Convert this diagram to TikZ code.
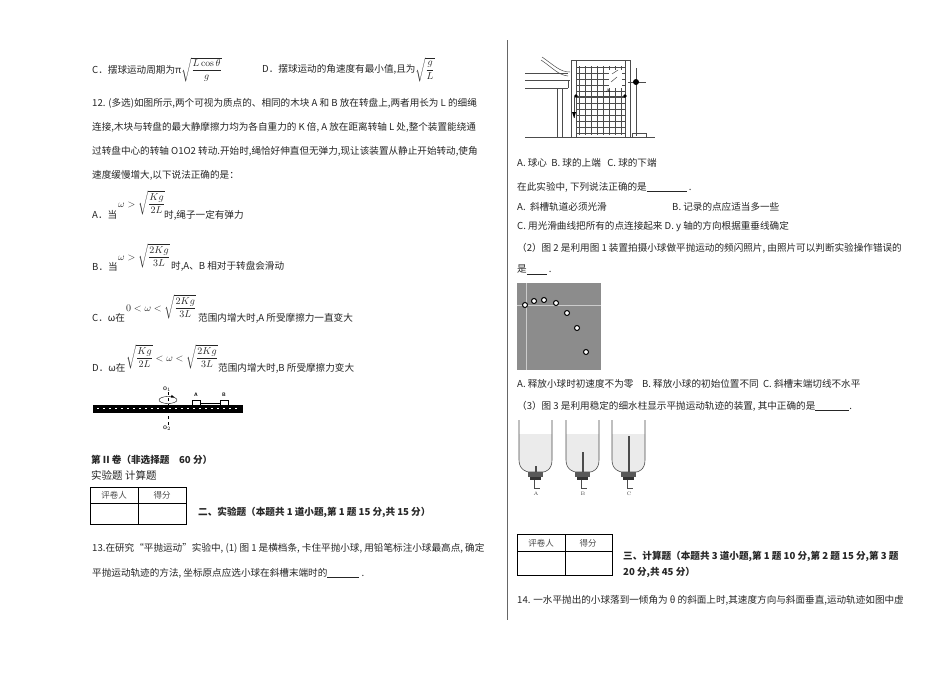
\documentclass[tikz,border=0pt]{standalone}
\usepackage{amsmath}
\usepackage{fontspec}
\newfontfamily\cjk{Noto Sans CJK SC}
\usetikzlibrary{shapes.geometric}
\tikzset{
 t/.style={anchor=west,inner sep=0pt,font=\cjk\fontsize{9.6}{11}\selectfont,text=black!85},
 hd/.style={t,font=\cjk\bfseries\fontsize{9.6}{11}\selectfont},
 sm/.style={inner sep=0pt,font=\cjk\fontsize{8.5}{10}\selectfont,text=black!70},
 ln/.style={draw=black!70,line width=0.5pt},
 ball/.style={circle,draw=black,fill=white,line width=1pt,minimum size=5pt,inner sep=0pt}
}
\begin{document}
\begin{tikzpicture}[x=1pt,y=-1pt]
\useasboundingbox[fill=white] (0,0) rectangle (950,673);
% left column
\node[t] (c11) at (92,70) {C．摆球运动周期为π$\sqrt{\dfrac{L\cos\theta}{g}}$};
\node[t] (d11) at (262,70) {D．摆球运动的角速度有最小值,且为$\sqrt{\dfrac{g}{L}}$};
\node[t] (q1) at (92,103) {12. (多选)如图所示,两个可视为质点的、相同的木块 A 和 B 放在转盘上,两者用长为 L 的细绳};
\node[t] (q2) at (92,127) {连接,木块与转盘的最大静摩擦力均为各自重力的 K 倍, A 放在距离转轴 L 处,整个装置能绕通};
\node[t] (q3) at (92,151) {过转盘中心的转轴 O1O2 转动.开始时,绳恰好伸直但无弹力,现让该装置从静止开始转动,使角};
\node[t] (q4) at (92,175) {速度缓慢增大,以下说法正确的是：};
\node[t] (oa) at (92,215) {A．当};
\node[t] (oam) at (118,203) {$\omega>\sqrt{\dfrac{Kg}{2L}}$};
\node[t] (oat) at (164,215) {时,绳子一定有弹力};
\node[t] (ob) at (92,267) {B．当};
\node[t] (obm) at (118,256) {$\omega>\sqrt{\dfrac{2Kg}{3L}}$};
\node[t] (obt) at (171,266) {时,A、B 相对于转盘会滑动};
\node[t] (oc) at (92,318) {C．ω在};
\node[t] (ocm) at (126,307) {$0<\omega<\sqrt{\dfrac{2Kg}{3L}}$};
\node[t] (oct) at (198,318) {范围内增大时,A 所受摩擦力一直变大};
\node[t] (od) at (92,368) {D．ω在};
\node[t] (odm) at (126,357) {$\sqrt{\dfrac{Kg}{2L}}<\omega<\sqrt{\dfrac{2Kg}{3L}}$};
\node[t] (odt) at (218,368) {范围内增大时,B 所受摩擦力变大};
% turntable figure
\fill (93,405) rectangle (243,413);
\foreach \x in {97,103,...,240}{\fill[white] (\x,408) rectangle ++(1.5,1.2);}
\draw[dashed,line width=0.6pt] (168,392) -- (168,425);
\draw (168,400) ellipse (9 and 3.5);
\draw[-latex] (172,396.5) -- (175,397.5);
\draw[line width=0.8pt] (192,400) rectangle (200,405);
\draw[line width=0.8pt] (220,400) rectangle (228,405);
\draw (200,403) -- (220,403);
\node[font=\sffamily\bfseries\tiny] (lo1) at (167,389) {O$_1$};
\node[font=\sffamily\bfseries\tiny] (lo2) at (167,428) {O$_2$};
\node[font=\sffamily\bfseries\tiny] (la) at (196,395) {A};
\node[font=\sffamily\bfseries\tiny] (lb) at (224,395) {B};
% section II
\node[hd] (s2) at (91,460) {第 II 卷（非选择题\quad 60 分）};
\node[t,font=\cjk\fontsize{10.5}{12}\selectfont] (s2b) at (91,475) {实验题 计算题};
\draw[line width=0.8pt] (90,487) rectangle (186,524);
\draw[line width=0.6pt] (90,503) -- (186,503) (138,487) -- (138,524);
\node[sm] (p1) at (114,495) {评卷人};
\node[sm] (p2) at (162,495) {得分};
\node[hd] (h2) at (198,512) {二、实验题（本题共 1 道小题,第 1 题 15 分,共 15 分）};
\node[t] (q13a) at (92,548) {13.在研究“平抛运动”实验中, (1) 图 1 是横档条, 卡住平抛小球, 用铅笔标注小球最高点, 确定};
\node[t] (q13b) at (92,573) {平抛运动轨迹的方法, 坐标原点应选小球在斜槽末端时的\underline{\hspace{32pt}}\ .};
% divider
\draw[black!60,line width=0.6pt] (507,40) -- (507,620);
% figure 1
\draw[ln] (525,73) -- (568,73) (525,80) -- (570,80) (525,88) -- (568,88) (525,137) -- (655,137);
\draw[ln] (568,80) -- (568,88);
\draw[ln] (557,88) -- (557,137) (562,88) -- (562,137);
\draw[ln] (542,57) .. controls (555,66) and (560,72) .. (570,72);
\draw[ln] (541,60) .. controls (553,68) and (558,75) .. (568,76);
\draw[ln] (571,60) rectangle (630,137);
\draw[ln] (576,60) -- (576,137) (625,60) -- (625,137);
\foreach \x in {579,585,...,622}{\draw[black!70,line width=0.4pt] (\x,66) -- (\x,135);}
\foreach \y in {67,73,...,134}{\draw[black!70,line width=0.4pt] (576,\y) -- (625,\y);}
\fill[white] (609,70) rectangle (622,88);
\draw[ln] (612,74) -- (618,70) (611,82) -- (617,77);
\draw[ln,line width=1pt] (576,96) -- (625,96);
\fill (576,96) circle (1.8) (625,96) circle (1.8);
\draw[ln] (574,96) -- (574,118); \fill (574,118) -- (572,112) -- (576,112) -- cycle;
\node[font=\tiny] (fa) at (608,91) {A};
\draw[ln] (636,68) -- (636,136); \draw[ln] (628,82) -- (646,82);
\fill (636,82) circle (3);
\draw[ln] (632,133) rectangle (646,137);
% text
\node[t] (r1) at (517,163) {A. 球心\ \ B. 球的上端\ \ \ C. 球的下端};
\node[t] (r2) at (517,187) {在此实验中, 下列说法正确的是\underline{\hspace{40pt}}\ .};
\node[t] (r3) at (517,207) {A.\ \ 斜槽轨道必须光滑};
\node[t] (r3b) at (672,207) {B. 记录的点应适当多一些};
\node[t] (r4) at (517,227) {C. 用光滑曲线把所有的点连接起来 D. y 轴的方向根据重垂线确定};
\node[t] (r5) at (517,248) {（2）图 2 是利用图 1 装置拍摄小球做平抛运动的频闪照片, 由照片可以判断实验操作错误的};
\node[t] (r6) at (517,270) {是\underline{\hspace{20pt}}\ .};
% photo
\fill[black!45] (517,283) rectangle (601,370);
\draw[black!20,line width=1pt] (526,283) -- (526,370) (517,305) -- (601,305);
\foreach \p in {(525,305),(534,301),(544,300),(556,303),(567,313),(577,328),(586,352)}{\node[ball] at \p {};}
\node[t] (r7) at (517,384) {A. 释放小球时初速度不为零\ \ \ \ B. 释放小球的初始位置不同\ \ C. 斜槽末端切线不水平};
\node[t] (r8) at (517,406) {（3）图 3 是利用稳定的细水柱显示平抛运动轨迹的装置, 其中正确的是\underline{\hspace{34pt}}.};
% bottles
\foreach \bx/\lab in {519/A,566/B,612/C}{
  \fill[black!8] (\bx,434) -- (\bx,460) .. controls (\bx,470) and (\bx+8,472) .. (\bx+10,472) -- (\bx+24,472) .. controls (\bx+26,472) and (\bx+33,470) .. (\bx+33,460) -- (\bx+33,434) -- cycle;
  \draw[black!70,line width=0.6pt] (\bx,420) -- (\bx,460) .. controls (\bx,470) and (\bx+8,472) .. (\bx+10,472) -- (\bx+24,472) .. controls (\bx+26,472) and (\bx+33,470) .. (\bx+33,460) -- (\bx+33,420);
  \fill[black!65] (\bx+9,472) rectangle (\bx+24,477);
  \fill[black!80] (\bx+11,477) rectangle (\bx+22,480);
  \draw[black!70,line width=0.8pt] (\bx+15,480) -- (\bx+15,488) -- (\bx+21,488);
  \node[font=\tiny,text=black!70] at (\bx+17,494) {\lab};
}
\draw[black!70,line width=1.2pt] (536,466) -- (536,472);
\draw[black!70,line width=1.2pt] (583,452) -- (583,472);
\draw[black!70,line width=1.4pt] (629,436) -- (629,472);
% table 3
\draw[line width=0.8pt] (517,534) rectangle (612,575);
\draw[line width=0.6pt] (517,551) -- (612,551) (565,534) -- (565,575);
\node[sm] (p3) at (541,543) {评卷人};
\node[sm] (p4) at (588,543) {得分};
\node[hd] (h3) at (623,556) {三、计算题（本题共 3 道小题,第 1 题 10 分,第 2 题 15 分,第 3 题};
\node[hd] (h3b) at (623,572) {20 分,共 45 分）};
\node[t] (q14) at (517,600) {14. 一水平抛出的小球落到一倾角为 θ 的斜面上时,其速度方向与斜面垂直,运动轨迹如图中虚};
\end{tikzpicture}
\end{document}
